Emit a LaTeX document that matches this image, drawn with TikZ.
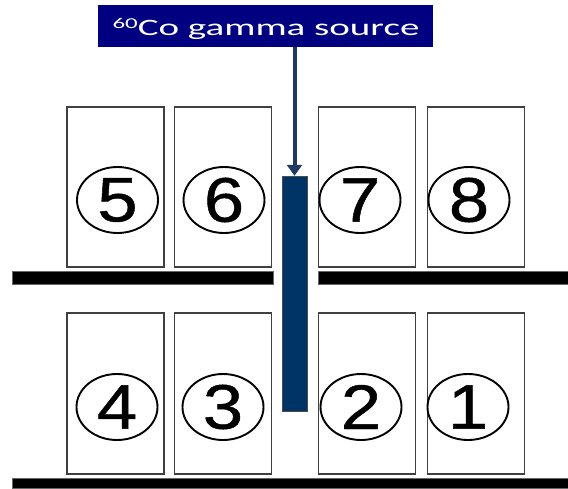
\documentclass[tikz,border=0pt]{standalone}
\usepackage{fontspec}
\setmainfont{Liberation Sans}
\newfontfamily\titlefont{Carlito}
\newfontfamily\digitfont[FakeBold=0.7]{Liberation Sans}
\usetikzlibrary{shapes.geometric,arrows.meta}
\definecolor{titlenavy}{RGB}{0,0,128}
\definecolor{arrowblue}{RGB}{31,56,100}
\definecolor{barblue}{RGB}{0,51,102}
\tikzset{
  holder/.style={draw=black!75, line width=1.1pt, fill=white, minimum width=97pt, minimum height=160pt, inner sep=0pt},
  shelf/.style={fill=black, draw=black!60, line width=0.4pt},
  num/.style={ellipse, draw=black, line width=1.9pt, minimum width=81pt, minimum height=66pt, inner sep=0pt,
    font=\digitfont\fontsize{63}{63}\selectfont},
}
\newcommand{\dg}[1]{\scalebox{1.15}[1]{#1}}
\begin{document}
\begin{tikzpicture}[x=1pt,y=-1pt]
\useasboundingbox (0,0) rectangle (568,488);
% shelves
\fill[shelf] (12,271) rectangle (273,284);
\fill[shelf] (318,271) rectangle (568,284);
\fill[shelf] (12,478) rectangle (568,488);
% holders top row
\node[holder] (b5) at (115.5,187) {};
\node[holder] (b6) at (223,187) {};
\node[holder] (b7) at (367,187) {};
\node[holder] (b8) at (476,187) {};
% holders bottom row
\node[holder, minimum height=161pt] (b4) at (115.5,393.5) {};
\node[holder, minimum height=161pt] (b3) at (223,393.5) {};
\node[holder, minimum height=161pt] (b2) at (367,393.5) {};
\node[holder, minimum height=161pt] (b1) at (476,393.5) {};
% numbers
\node[num] (c5) at (117.5,200) {\dg{5}};
\node[num] (c6) at (224,200) {\dg{6}};
\node[num] (c7) at (360,200) {\dg{7}};
\node[num] (c8) at (469,200) {\dg{8}};
\node[num] (c4) at (117,407) {\dg{4}};
\node[num] (c3) at (223,407) {\dg{3}};
\node[num] (c2) at (361,407) {\dg{2}};
\node[num] (c1) at (468,407) {\dg{1}};
% source bar
\node[fill=barblue, draw=black!70, line width=0.5pt, minimum width=25pt, minimum height=235pt, inner sep=0pt] (bar) at (294.5,293.5) {};
% title
\node[fill=titlenavy, minimum width=335pt, minimum height=42pt, inner sep=0pt] (title) at (265.5,26) {};
\node[anchor=base, text=white, inner sep=0pt] (ttext) at (266,35)
  {\scalebox{1.66}[1]{\titlefont\fontsize{23.5}{23.5}\selectfont\raisebox{7pt}{\fontsize{15}{15}\selectfont 60}Co gamma source}};
% arrow
\draw[arrowblue, line width=4pt, -{Triangle[width=15pt,length=11pt]}] (title.south -| bar.north) -- (bar.north);
\end{tikzpicture}
\end{document}
